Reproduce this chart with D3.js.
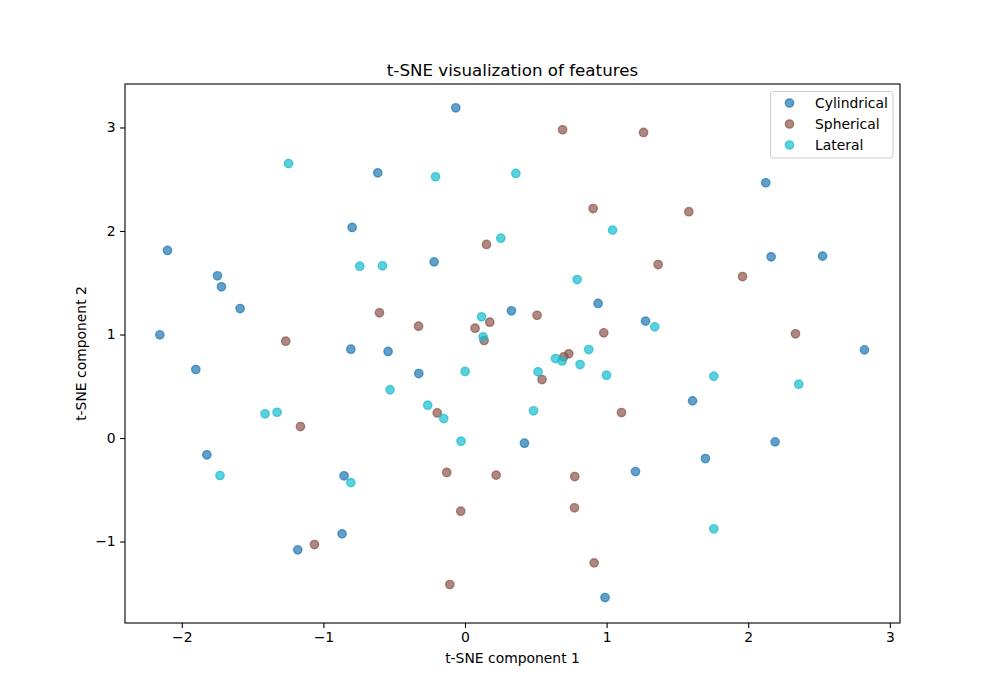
<!DOCTYPE html>
<html>
<head>
<meta charset="utf-8">
<script src="https://cdn.jsdelivr.net/npm/d3@7/dist/d3.min.js"></script>
<style>
    body { margin: 0; background: #fff; }
    svg text { font-family: "DejaVu Sans", sans-serif; fill: #000; }
</style>
</head>
<body>
<div id="chart"></div>
<script>
// 類別
const categories = ['Cylindrical', 'Spherical', 'Lateral'];

// 各類別的點 [x, y]
const cylindricalPoints = [
    [-0.065, 3.190], [-0.616, 2.562], [-0.797, 2.034], [-2.101, 1.812], [-0.218, 1.702],
    [-1.748, 1.567], [-1.720, 1.461], [-1.588, 1.251], [0.328, 1.229], [-2.155, 0.997],
    [-0.806, 0.858], [-0.543, 0.836], [2.124, 2.466], [2.162, 1.751], [2.525, 1.757],
    [0.940, 1.300], [1.275, 1.129], [2.821, 0.852], [-0.326, 0.623], [-1.901, 0.662],
    [-1.823, -0.162], [-0.854, -0.365], [-0.868, -0.926], [-1.181, -1.080], [1.607, 0.359],
    [0.420, -0.050], [2.190, -0.037], [1.698, -0.198], [1.204, -0.324], [0.989, -1.541]
];
const sphericalPoints = [
    [0.152, 1.870], [-0.604, 1.210], [-0.328, 1.080], [0.175, 1.119], [0.071, 1.061],
    [0.135, 0.942], [-1.266, 0.935], [0.689, 2.978], [1.261, 2.952], [0.905, 2.217],
    [1.581, 2.186], [1.364, 1.676], [1.960, 1.560], [0.509, 1.186], [0.980, 1.016],
    [2.334, 1.007], [0.733, 0.814], [0.698, 0.785], [0.544, 0.565], [1.105, 0.246],
    [-0.196, 0.242], [-1.162, 0.111], [-0.129, -0.333], [0.220, -0.359], [-0.030, -0.707],
    [-1.063, -1.029], [-0.107, -1.415], [0.775, -0.372], [0.773, -0.674], [0.912, -1.206]
];
const lateralPoints = [
    [-1.246, 2.652], [-0.208, 2.524], [0.359, 2.556], [0.253, 1.930], [-0.743, 1.660],
    [-0.583, 1.664], [0.117, 1.171], [0.128, 0.978], [1.042, 2.008], [0.792, 1.531],
    [1.340, 1.074], [0.874, 0.855], [0.639, 0.768], [0.686, 0.744], [0.813, 0.710],
    [0.999, 0.607], [0.001, 0.643], [0.516, 0.640], [-0.263, 0.317], [-0.150, 0.188],
    [0.484, 0.263], [-0.028, -0.031], [-0.529, 0.466], [-1.412, 0.234], [-1.327, 0.249],
    [-1.730, -0.362], [-0.806, -0.430], [1.757, 0.597], [2.357, 0.520], [1.757, -0.877]
];

// 刻度
const xTicks = [-2, -1, 0, 1, 2, 3];
const yTicks = [-1, 0, 1, 2, 3];

const colors = ['#1f77b4', '#8c564b', '#17becf'];
const series = [cylindricalPoints, sphericalPoints, lateralPoints];

const width = 1000;
const height = 700;
const margin = { left: 125, right: 100, top: 84, bottom: 77 };
const plotW = width - margin.left - margin.right;
const plotH = height - margin.top - margin.bottom;

const svg = d3.select('#chart')
    .append('svg')
    .attr('width', width)
    .attr('height', height);

const x = d3.scaleLinear().domain([-2.401, 3.072]).range([0, plotW]);
const y = d3.scaleLinear().domain([-1.787, 3.420]).range([plotH, 0]);

const g = svg.append('g')
    .attr('transform', `translate(${margin.left},${margin.top})`);

const fmt = d => (d < 0 ? '\u2212' + Math.abs(d) : String(d));

// X 軸
const xAxis = g.append('g')
    .attr('transform', `translate(0,${plotH})`)
    .call(d3.axisBottom(x).tickValues(xTicks).tickFormat(fmt).tickSize(4.9).tickPadding(4.5));

// Y 軸
const yAxis = g.append('g')
    .call(d3.axisLeft(y).tickValues(yTicks).tickFormat(fmt).tickSize(4.9).tickPadding(4.5));

[xAxis, yAxis].forEach(ax => {
    ax.select('.domain').remove();
    ax.selectAll('.tick line').attr('stroke', '#000').attr('stroke-width', 1.1);
    ax.selectAll('.tick text').style('font-size', '13.9px');
});

// 散點（填色與邊框各自帶透明度，同 matplotlib）
function drawMarker(sel, color) {
    sel.attr('r', 4.17)
        .attr('fill', color)
        .attr('fill-opacity', 0.7)
        .attr('stroke', color)
        .attr('stroke-opacity', 0.7)
        .attr('stroke-width', 1.39);
}

series.forEach((pts, i) => {
    g.append('g')
        .selectAll('circle')
        .data(pts)
        .enter()
        .append('circle')
        .attr('cx', d => x(d[0]))
        .attr('cy', d => y(d[1]))
        .call(drawMarker, colors[i]);
});

// 外框
g.append('rect')
    .attr('width', plotW)
    .attr('height', plotH)
    .attr('fill', 'none')
    .attr('stroke', '#000')
    .attr('stroke-width', 1.1);

// 標題與軸標籤
svg.append('text')
    .attr('x', margin.left + plotW / 2)
    .attr('y', 76)
    .attr('text-anchor', 'middle')
    .style('font-size', '16.7px')
    .text('t-SNE visualization of features');

svg.append('text')
    .attr('x', margin.left + plotW / 2)
    .attr('y', 663)
    .attr('text-anchor', 'middle')
    .style('font-size', '13.9px')
    .text('t-SNE component 1');

svg.append('text')
    .attr('transform', `translate(86,${margin.top + plotH / 2}) rotate(-90)`)
    .attr('text-anchor', 'middle')
    .style('font-size', '13.9px')
    .text('t-SNE component 2');

// 圖例
const legend = svg.append('g').attr('transform', 'translate(770.5,91.5)');
legend.append('rect')
    .attr('width', 122.5)
    .attr('height', 66.5)
    .attr('rx', 3)
    .attr('fill', '#fff')
    .attr('fill-opacity', 0.8)
    .attr('stroke', '#cccccc')
    .attr('stroke-width', 1);

categories.forEach((c, i) => {
    const row = legend.append('g').attr('transform', `translate(0,${11.5 + i * 21})`);
    row.append('circle')
        .attr('cx', 19)
        .attr('cy', 0)
        .call(drawMarker, colors[i]);
    row.append('text')
        .attr('x', 44.5)
        .attr('y', 0)
        .attr('dy', '0.36em')
        .style('font-size', '13.9px')
        .text(c);
});
</script>
</body>
</html>
